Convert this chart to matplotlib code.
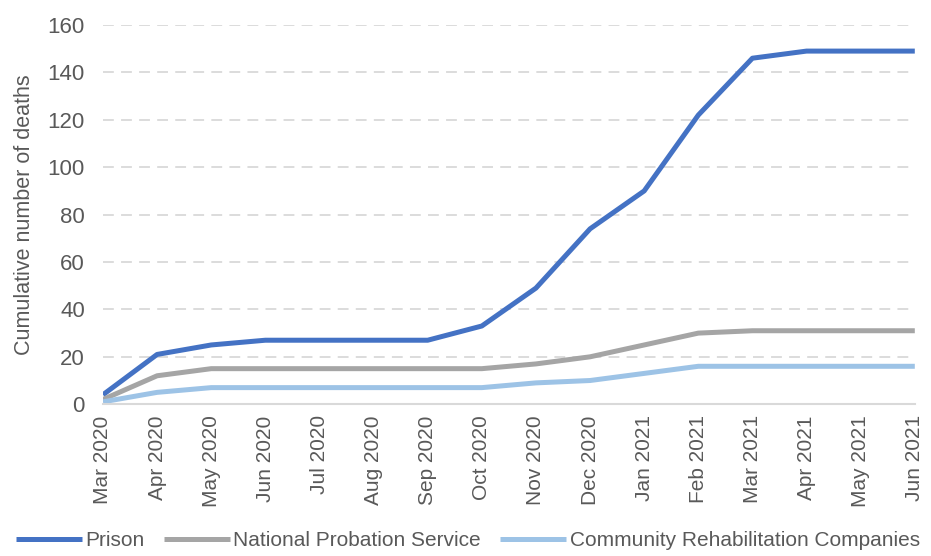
import numpy as np
import matplotlib
matplotlib.use('Agg')
import matplotlib.pyplot as plt

months = ['Mar 2020', 'Apr 2020', 'May 2020', 'Jun 2020', 'Jul 2020', 'Aug 2020',
          'Sep 2020', 'Oct 2020', 'Nov 2020', 'Dec 2020', 'Jan 2021', 'Feb 2021',
          'Mar 2021', 'Apr 2021', 'May 2021', 'Jun 2021']
prison = [4, 21, 25, 27, 27, 27, 27, 33, 49, 74, 90, 122, 146, 149, 149, 149]
nps = [2, 12, 15, 15, 15, 15, 15, 15, 17, 20, 25, 30, 31, 31, 31, 31]
crc = [1, 5, 7, 7, 7, 7, 7, 7, 9, 10, 13, 16, 16, 16, 16, 16]

plt.rcParams['font.family'] = ['Liberation Sans', 'DejaVu Sans']
txt = '#595959'

fig = plt.figure(figsize=(9.31, 5.56), dpi=100)
ax = fig.add_axes([0.1106, 0.273, 0.872, 0.682])

x = np.arange(len(months))
ax.plot(x, prison, color='#4472C4', lw=3.6, label='Prison', solid_capstyle='butt')
ax.plot(x, nps, color='#A5A5A5', lw=3.6, label='National Probation Service', solid_capstyle='butt')
ax.plot(x, crc, color='#9DC3E6', lw=3.6, label='Community Rehabilitation Companies', solid_capstyle='butt')

ax.set_xlim(0, len(months) - 1)
ax.set_ylim(0, 160)
ax.set_yticks(range(0, 161, 20))
ax.set_xticks(x)
ax.set_xticklabels(months, rotation=90, fontsize=15, color=txt)
ax.tick_params(axis='y', labelsize=16, colors=txt, length=0, pad=13)
ax.tick_params(axis='x', length=0, pad=8)

for s in ['top', 'right', 'left']:
    ax.spines[s].set_visible(False)
ax.spines['bottom'].set_color('#D9D9D9')
ax.spines['bottom'].set_linewidth(1.5)

ax.yaxis.grid(True, color='#D9D9D9', lw=1.3, dashes=(6, 4))
ax.set_axisbelow(True)

ax.set_ylabel('Cumulative number of deaths', fontsize=15.5, color=txt)
ax.yaxis.set_label_coords(-0.084, 0.5)

fig.legend(loc='lower left', bbox_to_anchor=(0.008, -0.004), ncol=3, frameon=False,
           fontsize=15, handlelength=3.2, handletextpad=0.15, columnspacing=0.9,
           labelcolor=txt, borderaxespad=0)

fig.savefig('out.png', dpi=100)
